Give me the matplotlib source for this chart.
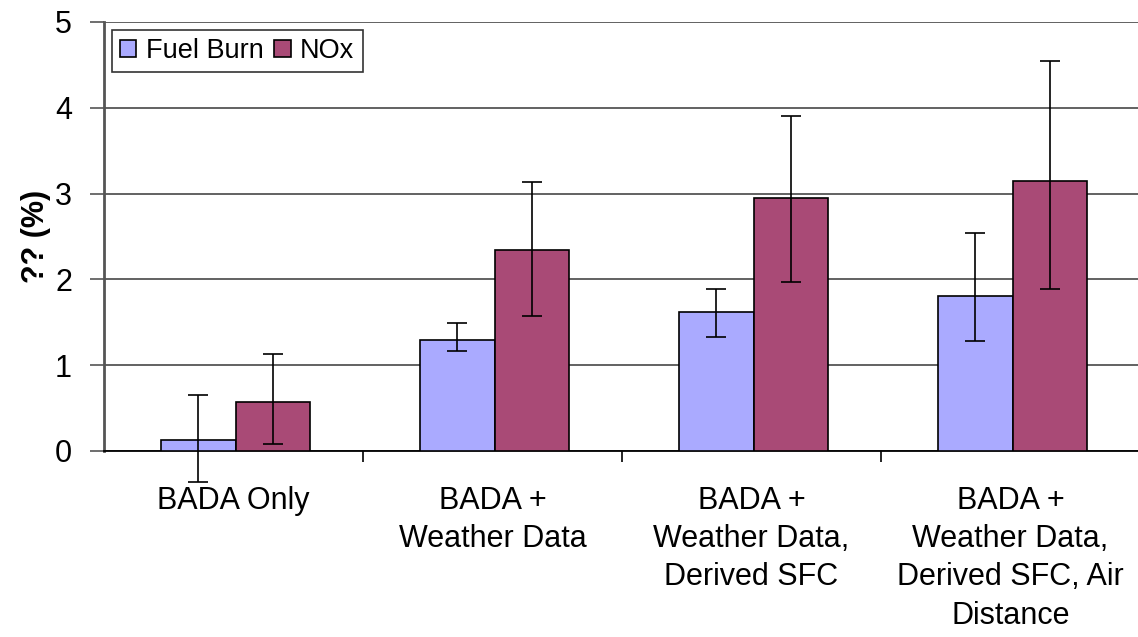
import matplotlib
matplotlib.use("Agg")
import matplotlib.pyplot as plt
import numpy as np

categories = ["BADA Only", "BADA +\nWeather Data", "BADA +\nWeather Data,\nDerived SFC",
              "BADA +\nWeather Data,\nDerived SFC, Air\nDistance"]
fuel_burn = [0.13, 1.29, 1.62, 1.81]
fuel_err_minus = [0.49, 0.13, 0.29, 0.53]
fuel_err_plus = [0.52, 0.20, 0.27, 0.73]
nox = [0.57, 2.34, 2.95, 3.15]
nox_err_minus = [0.49, 0.77, 0.98, 1.26]
nox_err_plus = [0.56, 0.79, 0.96, 1.40]
series_names = ["Fuel Burn", "NOx"]
y_label = "?? (%)"

plt.rcParams['font.family'] = ['Liberation Sans', 'DejaVu Sans']

fig = plt.figure(figsize=(11.38, 6.37), dpi=100)
ax = fig.add_axes([104/1138, 186/637, 1036/1138, 429/637])

x = np.arange(len(categories)) + 0.008
w = 0.288
c_fuel = "#AAAAFF"
c_nox = "#A94A76"
ax.bar(x - w/2, fuel_burn, w, color=c_fuel, edgecolor="black",
       linewidth=1.2, label=series_names[0], zorder=3)
ax.bar(x + w/2, nox, w, color=c_nox, edgecolor="black",
       linewidth=1.2, label=series_names[1], zorder=3)

for xs, vals, lo, hi in [(x - w/2, fuel_burn, fuel_err_minus, fuel_err_plus),
                         (x + w/2, nox, nox_err_minus, nox_err_plus)]:
    eb = ax.errorbar(xs, vals, yerr=[lo, hi], fmt='none', ecolor="black",
                     elinewidth=1.2, capsize=7, capthick=1.2, zorder=4)
    for art in eb.lines[1] + eb.lines[2]:
        art.set_clip_on(False)

ax.set_xlim(-0.5, 3.5)
ax.set_ylim(0, 5)
ax.set_yticks([0, 1, 2, 3, 4, 5])
ax.yaxis.grid(True, color="#555555", linewidth=1.3, zorder=0)
ax.set_axisbelow(True)

ax.set_xticks(np.arange(len(categories)))
ax.set_xticklabels(categories, fontsize=22, linespacing=1.36)
ax.tick_params(axis='x', which='major', length=0, pad=25)
ax.set_xticks([0.5, 1.5, 2.5], minor=True)
ax.tick_params(axis='x', which='minor', length=8, width=1.2, color="black", direction="out")
ax.tick_params(axis='y', length=10, width=1.2, color="#555555", labelsize=22, pad=13)

for s in ["top", "right"]:
    ax.spines[s].set_visible(False)
ax.spines["left"].set_color("#555555")
ax.spines["left"].set_linewidth(2)
ax.spines["bottom"].set_color("black")
ax.spines["bottom"].set_linewidth(1.3)

ax.set_ylabel(y_label, fontsize=22, fontweight="bold", labelpad=3)

leg = ax.legend(loc="upper left", bbox_to_anchor=(0.0077, 0.981), ncol=2, fontsize=19.5,
                frameon=True, fancybox=False, shadow=False, handlelength=0.6,
                handleheight=0.6, handletextpad=0.35, columnspacing=0.4,
                borderpad=0.3, borderaxespad=0)
leg.get_frame().set_edgecolor("black")
leg.get_frame().set_linewidth(1.2)

fig.savefig("out.png", dpi=100)
